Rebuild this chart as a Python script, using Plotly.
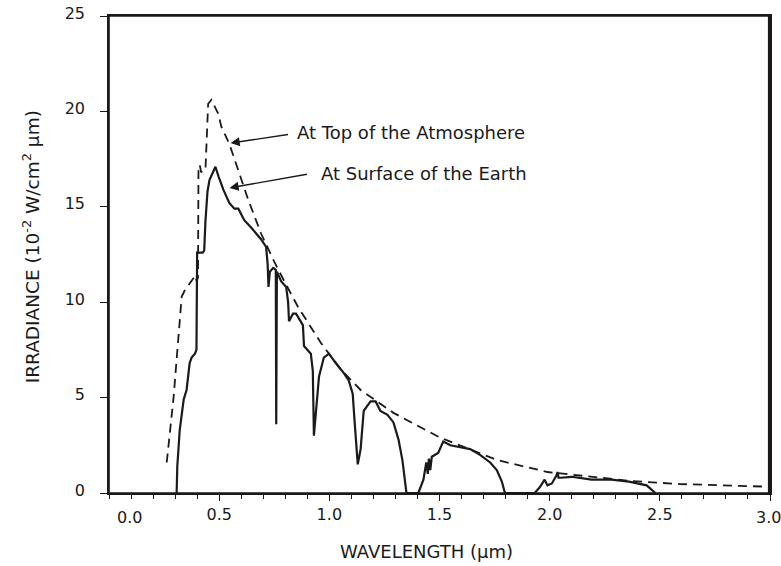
import plotly.graph_objects as go

# Extraterrestrial (top of atmosphere) spectral irradiance, dashed
toa_wavelength = [0.262, 0.275, 0.293, 0.307, 0.321, 0.330, 0.343, 0.366, 0.384, 0.392, 0.398,
                  0.404, 0.406, 0.412, 0.418, 0.428, 0.438, 0.442, 0.450, 0.465, 0.479, 0.495,
                  0.510, 0.546, 0.590, 0.631, 0.690, 0.751, 0.800, 0.858, 0.962, 1.050, 1.142,
                  1.291, 1.503, 1.760, 1.990, 2.200, 2.370, 2.590, 2.800, 2.990]
toa_irradiance = [1.6, 2.9, 5.0, 7.0, 9.2, 10.3, 10.6, 11.0, 11.3, 11.4, 11.1,
                  11.3, 16.9, 17.2, 16.8, 17.0, 17.0, 18.5, 20.4, 20.6, 20.3, 19.9,
                  19.2, 18.3, 16.8, 15.4, 13.6, 12.1, 11.0, 9.75, 7.86, 6.5, 5.4,
                  4.2, 2.9, 1.73, 1.1, 0.82, 0.63, 0.47, 0.38, 0.33]

# Spectral irradiance at the surface of the Earth, solid
sfc_wavelength = [0.307, 0.310, 0.321, 0.339, 0.352, 0.366, 0.375, 0.390, 0.397, 0.400,
                  0.425, 0.432, 0.438, 0.447, 0.456, 0.470, 0.483, 0.497, 0.519, 0.546,
                  0.569, 0.587, 0.614, 0.646, 0.690, 0.713, 0.720, 0.724, 0.730, 0.745,
                  0.757, 0.759, 0.762, 0.781, 0.804, 0.813, 0.817, 0.835, 0.849, 0.880,
                  0.885, 0.916, 0.925, 0.930, 0.939, 0.953, 0.975, 0.998, 1.030, 1.065,
                  1.088, 1.106, 1.115, 1.129, 1.142, 1.156, 1.187, 1.210, 1.232, 1.264,
                  1.291, 1.314, 1.332, 1.345, 1.350, 1.404, 1.427, 1.440, 1.447, 1.452,
                  1.458, 1.465, 1.494, 1.517, 1.549, 1.594, 1.639, 1.684, 1.730, 1.760,
                  1.783, 1.797, 1.932, 1.955, 1.977, 1.990, 2.010, 2.030, 2.036, 2.040,
                  2.050, 2.100, 2.190, 2.280, 2.360, 2.440, 2.480]
sfc_irradiance = [0.0, 1.4, 3.3, 4.9, 5.4, 6.8, 7.1, 7.3, 7.5, 12.6,
                  12.6, 12.7, 14.3, 15.8, 16.4, 16.8, 17.1, 16.6, 15.9, 15.2,
                  14.9, 14.9, 14.3, 13.9, 13.3, 12.9, 12.0, 10.8, 11.6, 11.8,
                  11.7, 3.6, 11.6, 11.1, 10.8, 10.0, 9.0, 9.4, 9.4, 8.8,
                  7.7, 7.3, 6.4, 3.0, 4.3, 6.1, 7.1, 7.3, 6.8, 6.3,
                  5.9, 5.2, 3.7, 1.5, 2.3, 4.3, 4.8, 4.8, 4.3, 4.1,
                  3.7, 2.8, 1.7, 0.2, 0.0, 0.0, 0.7, 1.6, 1.0, 1.8,
                  1.2, 1.9, 2.1, 2.7, 2.5, 2.4, 2.3, 2.0, 1.6, 1.2,
                  0.6, 0.0, 0.0, 0.3, 0.7, 0.4, 0.5, 0.9, 1.1, 0.8,
                  0.8, 0.85, 0.7, 0.7, 0.6, 0.4, 0.0]

x_tick_values = [0.5, 1.0, 1.5, 2.0, 2.5]
x_tick_labels = ["0.5", "1.0", "1.5", "2.0", "2.5"]
y_tick_values = [0, 5, 10, 15, 20, 25]
y_tick_labels = ["0", "5", "10", "15", "20", "25"]

FONT = "DejaVu Sans, Liberation Sans, Arial, sans-serif"
INK = "#1a1a1a"

fig = go.Figure()
fig.add_trace(go.Scatter(x=toa_wavelength, y=toa_irradiance, mode="lines",
                         line=dict(color=INK, width=1.8, dash="9px,6px"),
                         name="At Top of the Atmosphere", showlegend=False))
fig.add_trace(go.Scatter(x=sfc_wavelength, y=sfc_irradiance, mode="lines",
                         line=dict(color=INK, width=2.2),
                         name="At Surface of the Earth", showlegend=False))

fig.update_layout(
    width=781, height=566,
    margin=dict(l=109, r=11, t=16, b=73, autoexpand=False),
    paper_bgcolor="white", plot_bgcolor="white",
    font=dict(family=FONT, size=16, color=INK),
    xaxis=dict(range=[0, 3.0], tickvals=x_tick_values + [3.0], ticktext=x_tick_labels + [""],
               automargin=False,
               ticks="outside", ticklen=6, tickwidth=1.3, tickcolor=INK,
               minor=dict(dtick=0.1, tick0=0, ticks="outside", ticklen=4, tickwidth=1.2, tickcolor=INK),
               showline=True, linecolor=INK, linewidth=1.5, mirror=True,
               showgrid=False, zeroline=False,
               tickfont=dict(size=16)),
    yaxis=dict(range=[0, 25], tickvals=y_tick_values, ticktext=y_tick_labels,
               automargin=False,
               ticks="outside", ticklen=7, tickwidth=1.3, tickcolor=INK,
               ticklabelstandoff=12, ticklabelshift=-3,
               showline=True, linecolor=INK, linewidth=1.5, mirror=True,
               showgrid=False, zeroline=False,
               tickfont=dict(size=16)),
)

# full frame around the plotting area
fig.add_shape(type="rect", xref="paper", yref="paper", x0=0, y0=0, x1=1, y1=1,
              line=dict(color=INK, width=1.6), fillcolor="rgba(0,0,0,0)", layer="above")
fig.add_shape(type="line", xref="paper", yref="paper", x0=0.9985, y0=0, x1=0.9985, y1=1,
              line=dict(color=INK, width=2.2), layer="above")

# axis titles
fig.add_annotation(xref="paper", yref="paper", x=0.481, y=-0.1216, text="WAVELENGTH (µm)",
                   showarrow=False, xanchor="center", yanchor="middle", font=dict(size=18, color=INK))
fig.add_annotation(xref="paper", yref="paper", x=-0.1176, y=0.5157,
                   text="IRRADIANCE (10<sup>-2</sup> W/cm<sup>2</sup> µm)", textangle=-90,
                   showarrow=False, xanchor="center", yanchor="middle", font=dict(size=18.5, color=INK))

# end labels placed as in the original figure ("0.0" offset right, "3.0" kept inside the page)
fig.add_annotation(x=0, y=0, xref="x", yref="y", text="0.0", showarrow=False,
                   xanchor="center", yanchor="top", xshift=20, yshift=-13,
                   font=dict(size=16, color=INK))
fig.add_annotation(x=3.0, y=0, xref="x", yref="y", text="3.0", showarrow=False,
                   xanchor="center", yanchor="top", xshift=-2, yshift=-13,
                   font=dict(size=16, color=INK))

# labels with arrows
fig.add_annotation(x=0.552, y=18.34, ax=0.819, ay=18.8, xref="x", yref="y", axref="x", ayref="y",
                   text="", showarrow=True, arrowhead=2, arrowsize=1.3, arrowwidth=1.4, arrowcolor=INK)
fig.add_annotation(x=0.846, y=18.87, xref="x", yref="y", text="At Top of the Atmosphere",
                   showarrow=False, xanchor="left", yanchor="middle", font=dict(size=18, color=INK))
fig.add_annotation(x=0.547, y=15.99, ax=0.905, ay=16.72, xref="x", yref="y", axref="x", ayref="y",
                   text="", showarrow=True, arrowhead=2, arrowsize=1.3, arrowwidth=1.4, arrowcolor=INK)
fig.add_annotation(x=0.955, y=16.77, xref="x", yref="y", text="At Surface of the Earth",
                   showarrow=False, xanchor="left", yanchor="middle", font=dict(size=18, color=INK))

fig.write_html("out.html", config={"displayModeBar": False},
               post_script="document.body.style.margin='0';document.body.style.overflow='hidden';")
